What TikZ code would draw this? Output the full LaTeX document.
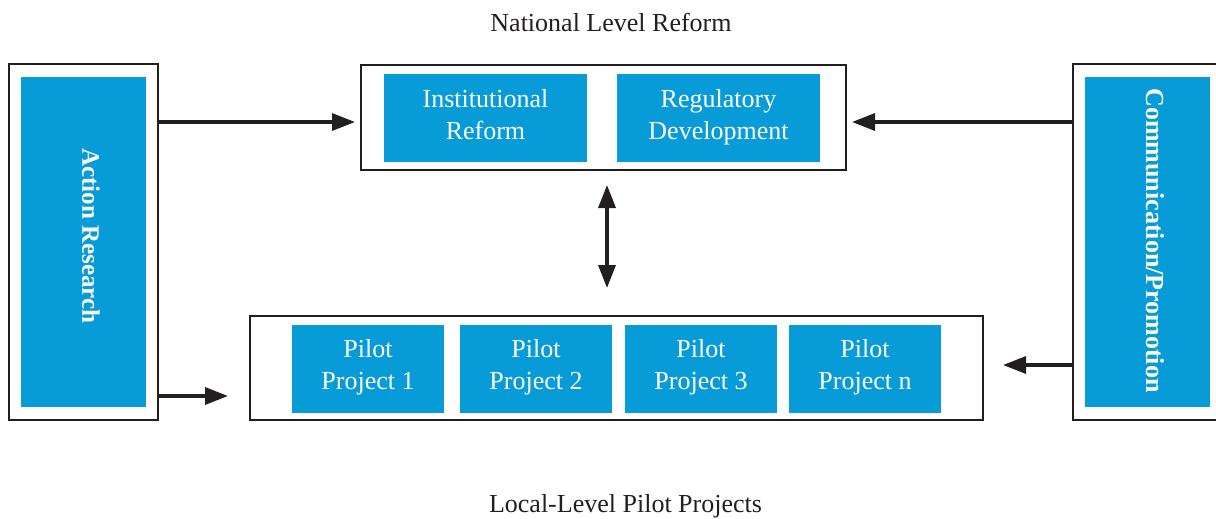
\documentclass[tikz,border=0pt]{standalone}
\usepackage{fontspec}
\setmainfont{Liberation Serif}
\usetikzlibrary{arrows.meta}
\definecolor{boxblue}{RGB}{7,155,216}
\definecolor{ink}{RGB}{35,31,32}
\newcommand\twolines[3]{#1\strut\\#2\strut\rule[-#3]{0pt}{0pt}}
\begin{document}
\begin{tikzpicture}[x=1pt,y=-1pt,
  outerbox/.style={draw=ink,line width=2.6pt,fill=white,inner sep=0pt,minimum width=#1},
  bluebox/.style={fill=boxblue,text=white,inner sep=0pt,align=center,font=\fontsize{26}{31.5}\selectfont},
  sidetext/.style={text=white,rotate=-90,inner sep=0pt,font=\fontsize{#1}{31.5}\selectfont\bfseries},
  title/.style={text=ink,inner sep=0pt,anchor=base,font=\fontsize{26}{31.5}\selectfont},
  conn/.style={draw=ink,line width=3.3pt,-{Triangle[length=23pt,width=17pt]}},
  dconn/.style={draw=ink,line width=3.6pt,{Triangle[length=23pt,width=17pt]}-{Triangle[length=23pt,width=17pt]}}
]
\useasboundingbox (0,0) rectangle (1216,519);
% titles
\node[title] (ttop) at (611,32) {National Level Reform};
\node[title] (tbot) at (625.5,512) {Local-Level Pilot Projects};
% left column
\node[outerbox=149pt,minimum height=356pt] (lo) at (83.5,242) {};
\node[bluebox,minimum width=125pt,minimum height=330pt] (lb) at (83.5,242) {};
\node[sidetext=25] (lt) at (91,236) {Action Research};
% right column
\node[outerbox=160pt,minimum height=356pt] (ro) at (1153,242) {};
\node[bluebox,minimum width=125pt,minimum height=330pt] (rb) at (1147.5,242) {};
\node[sidetext=26] (rt) at (1155,240.5) {Communication/Promotion};
% national box
\node[outerbox=485pt,minimum height=105pt] (no) at (603.5,117.5) {};
\node[bluebox,minimum width=203pt,minimum height=88pt] (n1) at (485.5,118) {\twolines{Institutional}{Reform}{11.5pt}};
\node[bluebox,minimum width=203pt,minimum height=88pt] (n2) at (718.5,118) {\twolines{Regulatory}{Development}{11.5pt}};
% local box
\node[outerbox=733pt,minimum height=104pt] (po) at (616.5,368) {};
\node[bluebox,minimum width=152pt,minimum height=88pt] (p1) at (368,369) {\twolines{Pilot}{Project 1}{13.5pt}};
\node[bluebox,minimum width=152pt,minimum height=88pt] (p2) at (536,369) {\twolines{Pilot}{Project 2}{13.5pt}};
\node[bluebox,minimum width=152pt,minimum height=88pt] (p3) at (701,369) {\twolines{Pilot}{Project 3}{13.5pt}};
\node[bluebox,minimum width=152pt,minimum height=88pt] (pn) at (865,369) {\twolines{Pilot}{Project n}{13.5pt}};
% arrow tips
\coordinate (t1) at (355,122);
\coordinate (t2) at (852,122);
\coordinate (t3) at (228,396);
\coordinate (t4) at (1003,365);
\coordinate (d1) at (607,185);
\coordinate (d2) at (607,288);
\draw[conn] (lo.east |- t1) -- (t1);
\draw[conn] (ro.west |- t2) -- (t2);
\draw[conn] (lo.east |- t3) -- (t3);
\draw[conn] (ro.west |- t4) -- (t4);
\draw[dconn] (d1) -- (d2);
\end{tikzpicture}
\end{document}
